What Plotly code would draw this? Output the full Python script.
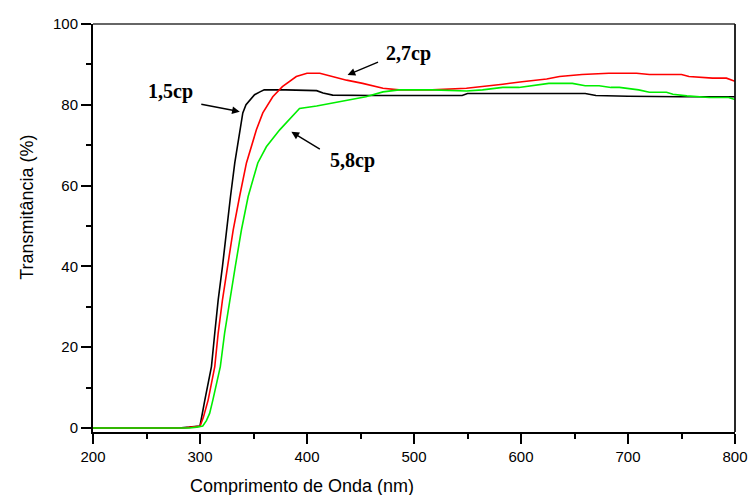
import plotly.graph_objects as go

# 1,5cp (black)
wl_15 = [200, 280, 290, 295, 300, 304.5, 310.7, 313.8, 317, 321, 324.7, 328.5, 332.5, 337, 340, 343,
         346.5, 351, 356, 360, 380, 409, 415, 424, 460, 545, 550, 600, 660, 670, 700, 750, 800]
t_15 = [0, 0, 0.2, 0.3, 0.5, 6.9, 15.2, 23.5, 31.7, 40, 49, 57.3, 65.6, 73.8, 78, 80,
        81.2, 82.5, 83.2, 83.7, 83.7, 83.5, 82.9, 82.4, 82.3, 82.3, 82.8, 82.8, 82.8, 82.3, 82.1, 82.0, 82.0]

# 2,7cp (red)
wl_27 = [200, 285, 292, 300, 303, 307.6, 313.8, 317, 321, 326, 331, 337, 343.4, 352.7, 358.7, 368,
         377, 390, 400, 412, 424, 437, 452, 471, 486, 517, 549, 564, 583, 601, 624, 636, 657, 682,
         708, 720, 750, 757, 779, 792, 800]
t_27 = [0, 0, 0.2, 0.4, 2.5, 6.9, 15.2, 23.5, 31.7, 40, 49, 57.3, 65.6, 73.8, 78, 82,
        84.5, 87, 87.8, 87.8, 87, 86.1, 85.3, 84.1, 83.7, 83.7, 84.1, 84.5, 85.1, 85.7, 86.4, 87, 87.5, 87.8,
        87.8, 87.5, 87.5, 87, 86.6, 86.6, 85.8]

# 5,8cp (green)
wl_58 = [200, 290, 297, 302.6, 306, 309, 312, 319, 323, 327.8, 333, 338.7, 345, 354, 362, 374.5,
         384, 393, 409, 424, 440, 455, 471, 486, 517, 549, 564, 583, 598, 610, 626, 648, 660, 673,
         684, 692, 710, 720, 736, 742, 755, 776, 794, 800]
t_58 = [0, 0, 0.2, 0.5, 1.8, 3.6, 6.9, 15.2, 23.5, 31.7, 40, 49, 57.3, 65.6, 69.6, 73.8,
        76.6, 79.1, 79.7, 80.4, 81.2, 82, 83.2, 83.7, 83.7, 83.4, 83.7, 84.3, 84.3, 84.7, 85.3, 85.3, 84.7, 84.7,
        84.3, 84.3, 83.7, 83.1, 83.1, 82.6, 82.2, 81.8, 81.8, 81.3]

x_ticks = [200, 300, 400, 500, 600, 700, 800]
y_ticks = [0, 20, 40, 60, 80, 100]

labels = ["1,5cp", "2,7cp", "5,8cp"]
label_pos = [(272.8, 83.4), (494.9, 92.6), (442.6, 66.1)]
arrow_head = [(337.2, 78.3), (437.9, 87.4), (385.4, 73.3)]
arrow_tail = [(299.8, 80.2), (467.8, 90.7), (413.4, 68.8)]

fig = go.Figure()
fig.add_trace(go.Scatter(x=wl_15, y=t_15, mode="lines", line=dict(color="#000000", width=1.6), name=labels[0]))
fig.add_trace(go.Scatter(x=wl_27, y=t_27, mode="lines", line=dict(color="#ff0000", width=1.6), name=labels[1]))
fig.add_trace(go.Scatter(x=wl_58, y=t_58, mode="lines", line=dict(color="#00ee00", width=1.6), name=labels[2]))

annotations = []
for lab, (lx, ly), (hx, hy), (tx, ty) in zip(labels, label_pos, arrow_head, arrow_tail):
    annotations.append(dict(x=lx, y=ly, xref="x", yref="y", text="<b>%s</b>" % lab, showarrow=False,
                            font=dict(family="Liberation Serif", size=20, color="#000")))
    annotations.append(dict(x=hx, y=hy, ax=tx, ay=ty, xref="x", yref="y", axref="x", ayref="y",
                            text="", showarrow=True, arrowhead=2, arrowsize=1.1, arrowwidth=1.4,
                            arrowcolor="#000"))

annotations.append(dict(x=395, y=-0.133, xref="x", yref="paper", xanchor="center", yanchor="middle",
                        text="Comprimento de Onda (nm)", showarrow=False,
                        font=dict(family="Liberation Sans", size=18, color="#000")))
annotations.append(dict(x=-0.104, y=0.55, xref="paper", yref="paper", xanchor="center", yanchor="middle",
                        text="Transmitância (%)", textangle=-90, showarrow=False,
                        font=dict(family="Liberation Sans", size=18, color="#000")))

fig.update_layout(
    width=753, height=495,
    margin=dict(l=93, r=18, t=24, b=63),
    paper_bgcolor="white", plot_bgcolor="white",
    showlegend=False,
    annotations=annotations,
    shapes=[
        dict(type="line", xref="paper", yref="paper", x0=0, x1=1, y0=1, y1=1,
             line=dict(color="#333", width=1.5)),
        dict(type="line", xref="paper", yref="paper", x0=1, x1=1, y0=0, y1=1,
             line=dict(color="#111", width=1.8)),
    ],
)
fig.update_xaxes(range=[200, 800], tickvals=x_ticks, ticks="outside", ticklen=10, tickwidth=1.5,
                 tickcolor="#000", showline=True, linecolor="#000", linewidth=2, showgrid=False,
                 zeroline=False, automargin=False,
                 tickfont=dict(family="Liberation Sans", size=15, color="#000"),
                 minor=dict(ticks="outside", ticklen=5, tickwidth=1.5, tickcolor="#000", dtick=50,
                            tick0=200, showgrid=False))
fig.update_yaxes(range=[-1, 100], tickvals=y_ticks, ticks="outside", ticklen=10, tickwidth=1.5,
                 tickcolor="#000", showline=True, linecolor="#000", linewidth=2, showgrid=False,
                 zeroline=False, automargin=False,
                 tickfont=dict(family="Liberation Sans", size=15, color="#000"),
                 minor=dict(ticks="outside", ticklen=5, tickwidth=1.5, tickcolor="#000", dtick=10,
                            tick0=0, showgrid=False))

fig.write_html("out.html")
